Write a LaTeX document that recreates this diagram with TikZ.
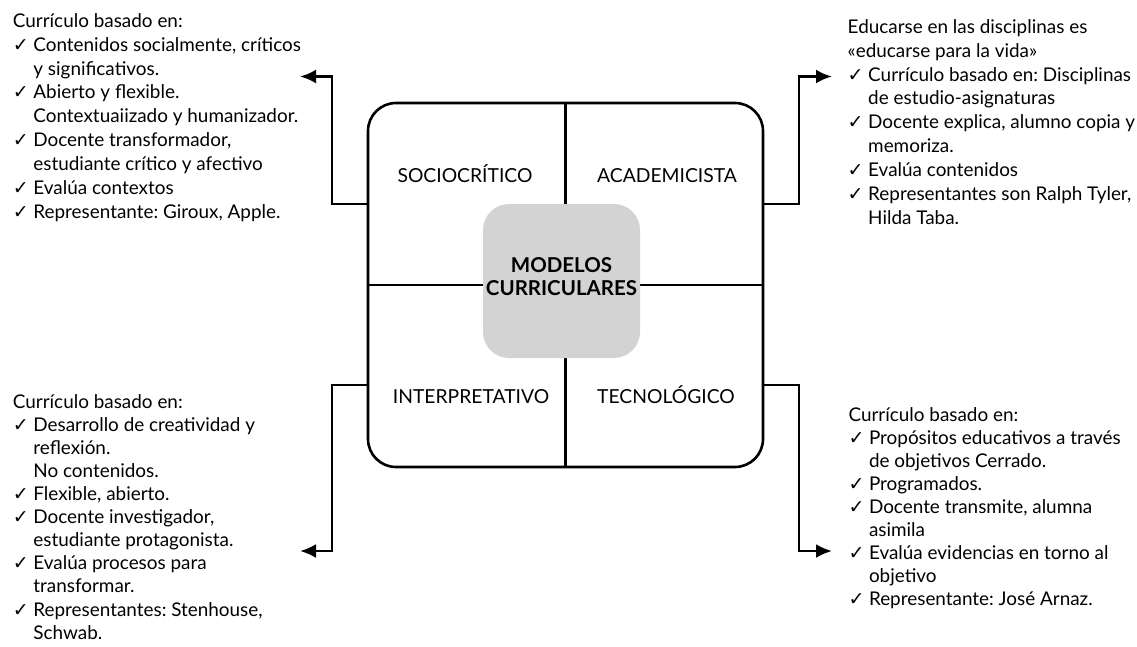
\documentclass[tikz,border=0pt]{standalone}
\usepackage{fontspec}
\setmainfont{Lato}
\newfontfamily\symfont{DejaVu Sans}
\usetikzlibrary{arrows.meta}

\definecolor{coregray}{HTML}{D3D3D3}

% check-mark bullet, hanging indent and first-line strut for the lists
\newcommand{\ck}{\makebox[20.5pt][l]{\symfont\fontsize{19}{19}\selectfont ✓}}
\newcommand{\ind}{\hspace*{20.5pt}}
\newcommand{\firstline}{\rule{0pt}{16pt}}

\tikzset{
  frame/.style={draw, line width=2.6pt, rounded corners=28pt,
    minimum width=395pt, minimum height=364pt, inner sep=0pt},
  divider/.style={line width=2.6pt},
  core/.style={fill=coregray, rounded corners=26pt,
    minimum width=157pt, minimum height=154pt, inner sep=0pt},
  coretext/.style={align=center, inner sep=0pt,
    font=\bfseries\fontsize{20.5}{22.7}\selectfont},
  quad/.style={inner sep=0pt, text height=13pt, text depth=0pt,
    font=\fontsize{19.3}{20}\selectfont},
  block/.style={anchor=north west, inner sep=0pt, align=left},
  tight/.style={font=\fontsize{18.9}{23.1}\selectfont},
  loose/.style={font=\fontsize{18.9}{23.95}\selectfont},
  conn/.style={line width=2.6pt, -{Latex[length=16pt,width=14pt]}},
}

\begin{document}
\frenchspacing
\begin{tikzpicture}[x=1pt,y=-1pt]
\useasboundingbox (0,0) rectangle (1137,646);

% central frame split into four quadrants
\node[frame] (frame) at (565.5,285) {};
\draw[divider] (frame.north) -- (frame.south);
\draw[divider] (frame.west) -- (frame.east);

% core box on top of the cross
\node[core] (core) at (561.5,281) {};
\node[coretext] (title) at (561.5,276.4) {MODELOS\\CURRICULARES};

% quadrant labels
\node[quad] (soc) at (465,176) {SOCIOCRÍTICO};
\node[quad] (aca) at (667,176) {ACADEMICISTA};
\node[quad] (int) at (471,397) {INTERPRETATIVO};
\node[quad] (tec) at (666,397) {TECNOLÓGICO};

% description lists
\node[block, loose] (tl) at (12.7,10.9) {\firstline Currículo basado en:\\
\ck Contenidos socialmente, críticos\\
\ind y significativos.\\
\ck Abierto y flexible.\\
\ind Contextuaiizado y humanizador.\\
\ck Docente transformador,\\
\ind estudiante crítico y afectivo\\
\ck Evalúa contextos\\
\ck Representante: Giroux, Apple.};

\node[block, loose] (tr) at (847.5,16.9) {\firstline Educarse en las disciplinas es\\
«educarse para la vida»\\
\ck Currículo basado en: Disciplinas\\
\ind de estudio-asignaturas\\
\ck Docente explica, alumno copia y\\
\ind memoriza.\\
\ck Evalúa contenidos\\
\ck Representantes son Ralph Tyler,\\
\ind Hilda Taba.};

\node[block, tight] (bl) at (12.7,391.9) {\firstline Currículo basado en:\\
\ck Desarrollo de creatividad y\\
\ind reflexión.\\
\ind No contenidos.\\
\ck Flexible, abierto.\\
\ck Docente investigador,\\
\ind estudiante protagonista.\\
\ck Evalúa procesos para\\
\ind transformar.\\
\ck Representantes: Stenhouse,\\
\ind Schwab.};

\node[block, tight] (br) at (848.3,404.9) {\firstline Currículo basado en:\\
\ck Propósitos educativos a través\\
\ind de objetivos Cerrado.\\
\ck Programados.\\
\ck Docente transmite, alumna\\
\ind asimila\\
\ck Evalúa evidencias en torno al\\
\ind objetivo\\
\ck Representante: José Arnaz.};

% connector ends
\coordinate (tl-tip) at (300,76.5);
\coordinate (tr-tip) at (832,76.5);
\coordinate (bl-tip) at (300,551);
\coordinate (br-tip) at (832,551);

% connectors from the frame to each list
\draw[conn] ([yshift=81pt]frame.west) -| (332,76.5) -- (tl-tip);
\draw[conn] ([yshift=81pt]frame.east) -| (799,76.5) -- (tr-tip);
\draw[conn] ([yshift=-100pt]frame.west) -| (332,551) -- (bl-tip);
\draw[conn] ([yshift=-100pt]frame.east) -| (799,551) -- (br-tip);
\end{tikzpicture}
\end{document}
